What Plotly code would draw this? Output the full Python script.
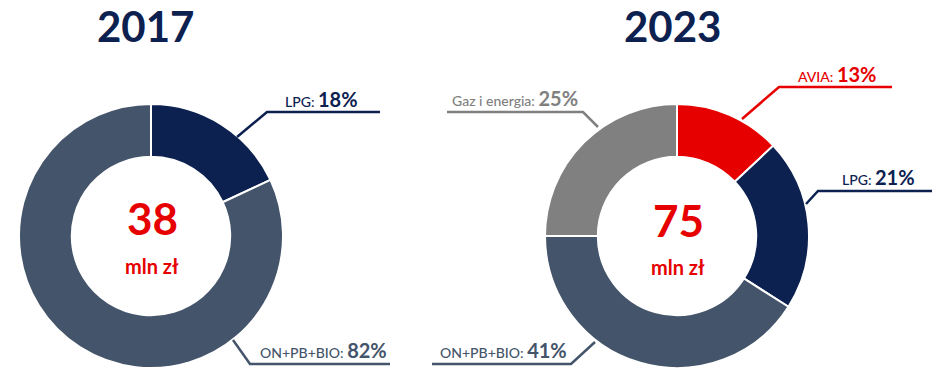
import plotly.graph_objects as go

W, H = 947, 380

# ---- data ----
labels_2017 = ["LPG", "ON+PB+BIO"]
values_2017 = [18, 82]
labels_2023 = ["AVIA", "LPG", "ON+PB+BIO", "Gaz i energia"]
values_2023 = [13, 21, 41, 25]
totals = {"2017": 38, "2023": 75}
unit = "mln zł"

colors = {"AVIA": "#e60000", "LPG": "#0c2150", "ON+PB+BIO": "#44546a", "Gaz i energia": "#808080"}
title_color = "#0c2150"
red = "#e60000"
FONT = "Lato"


def px(x):
    return x / W


def py(y):
    return 1 - y / H


fig = go.Figure()

R = 132
for lbls, vals, cx in [(labels_2017, values_2017, 151), (labels_2023, values_2023, 677)]:
    cy = 236
    fig.add_trace(go.Pie(
        labels=lbls, values=vals, sort=False, direction="clockwise", rotation=0,
        hole=0.6, textinfo="none", hoverinfo="label+percent",
        marker=dict(colors=[colors[l] for l in lbls], line=dict(color="white", width=2)),
        domain=dict(x=[px(cx - R), px(cx + R)], y=[py(cy + R), py(cy - R)]),
        showlegend=False,
    ))

ann = []
# titles
for t, cx in [("2017", 145), ("2023", 672)]:
    ann.append(dict(x=px(cx), y=1, xref="paper", yref="paper", text=f"<b>{t}</b>",
                    showarrow=False, font=dict(family=FONT, size=42, color=title_color),
                    xanchor="center", yanchor="top", borderpad=0))
# center totals
for key, cx, ny, uy in [("2017", 152, 218, 266), ("2023", 678, 220, 267)]:
    ann.append(dict(x=px(cx), y=py(ny), xref="paper", yref="paper", text=f"<b>{totals[key]}</b>",
                    showarrow=False, font=dict(family=FONT, size=44, color=red),
                    xanchor="center", yanchor="middle"))
    ann.append(dict(x=px(cx), y=py(uy), xref="paper", yref="paper", text=f"<b>{unit}</b>",
                    showarrow=False, font=dict(family=FONT, size=20, color=red),
                    xanchor="center", yanchor="middle"))

# leader labels: (label, value, text x-left, text y-center, leader polyline points)
leaders = [
    ("LPG", values_2017[0], 283, 99, [(237, 137), (267, 112), (380, 112)]),
    ("ON+PB+BIO", values_2017[1], 258, 350, [(233, 340), (250, 364), (390, 364)]),
    ("Gaz i energia", values_2023[3], 450, 98, [(598, 127), (583, 112), (447, 112)]),
    ("AVIA", values_2023[0], 796, 74, [(742, 119), (779, 87), (892, 87)]),
    ("LPG", values_2023[1], 840, 177, [(806, 204), (818, 191), (932, 191)]),
    ("ON+PB+BIO", values_2023[2], 438, 350, [(595, 342), (571, 364), (432, 364)]),
]
shapes = []
for name, v, tx, ty, pts in leaders:
    c = colors[name]
    ann.append(dict(x=px(tx), y=py(ty), xref="paper", yref="paper",
                    text=f"{name}: <b><span style='font-size:20px'>{v}%</span></b>",
                    showarrow=False, font=dict(family=FONT, size=14, color=c, weight=500),
                    xanchor="left", yanchor="middle"))
    path = "M " + " L ".join(f"{px(x)} {py(y)}" for x, y in pts)
    shapes.append(dict(type="path", path=path, xref="paper", yref="paper",
                       line=dict(color=c, width=2.5)))

fig.update_layout(
    width=W, height=H, margin=dict(l=0, r=0, t=0, b=0),
    paper_bgcolor="white", plot_bgcolor="white",
    annotations=ann, shapes=shapes,
)

fig.write_html("out.html", config={"displayModeBar": False},
               post_script="document.body.style.margin='0';document.body.style.padding='0';")
